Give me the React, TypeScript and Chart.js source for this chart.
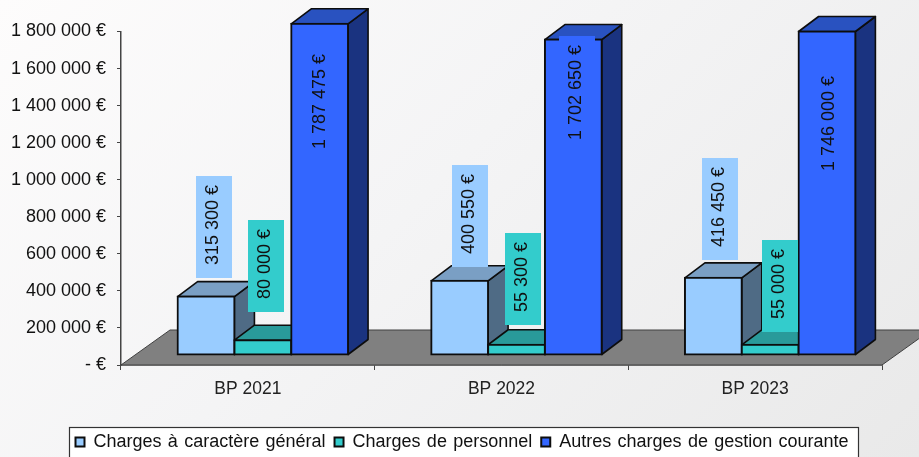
import React, { useEffect, useRef } from "react";
import { Chart, registerables } from "chart.js";

Chart.register(...registerables);

const categories = ["BP 2021", "BP 2022", "BP 2023"];
const seriesNames = ["Charges à caractère général", "Charges de personnel", "Autres charges de gestion courante"];
const generalCharges = [315300, 400550, 416450];
const staffCharges = [80000, 55300, 55000];
const otherCharges = [1787475, 1702650, 1746000];
const yTicks = [0, 200000, 400000, 600000, 800000, 1000000, 1200000, 1400000, 1600000, 1800000];

const COLORS = ["#99CCFF", "#33CCCC", "#3366FF"];
const TOPS = ["#7A9FC4", "#299A9A", "#2952C0"];
const SIDES = ["#4F6B85", "#1F7A7A", "#1A3380"];
const STROKE = "#0d0d0d";
const FAMILY = "'Liberation Sans', Arial, sans-serif";
const FONT = "18px " + FAMILY;
const DEPTH_X = 20, DEPTH_Y = 15, SHIFT_X = 15, SHIFT_Y = -10;
const FLOOR_X = 49, FLOOR_Y = 35;
// data-label placement, per group then per series
const LABEL_LEFT_OFFSET = [[18, 14, 12], [21, 17, 14], [17, 20, 13]];
const LABEL_BOTTOM = [[278, 312, 162], [267, 325, 153], [260, 332, 184]];

const fmt = (v: number) => {
  if (v === 0) return "- €";
  return String(v).replace(/\B(?=(\d{3})+(?!\d))/g, " ") + " €";
};

const poly = (ctx: CanvasRenderingContext2D, pts: number[][], fill: string) => {
  ctx.beginPath();
  pts.forEach((p, i) => (i ? ctx.lineTo(p[0], p[1]) : ctx.moveTo(p[0], p[1])));
  ctx.closePath();
  ctx.fillStyle = fill;
  ctx.fill();
  ctx.strokeStyle = STROKE;
  ctx.lineWidth = 1.6;
  ctx.lineJoin = "round";
  ctx.stroke();
};

const threeD = {
  id: "threeD",
  beforeDraw(chart: any) {
    const lg = chart.legend;
    const ctx = chart.ctx;
    lg.left = 66.5;
    lg.right = 919;
    lg.top = 424;
    lg.bottom = 460;
    if (!lg.__wrapped) {
      lg.__wrapped = true;
      const orig = lg.draw;
      lg.draw = function (...a: any[]) {
        ctx.wordSpacing = "1.3px";
        orig.apply(this, a);
        ctx.wordSpacing = "0px";
      };
    }
    ctx.save();
    ctx.fillStyle = "#fff";
    ctx.strokeStyle = "#333";
    ctx.lineWidth = 1.2;
    ctx.fillRect(69.5, 427.5, 789, 40);
    ctx.strokeRect(69.5, 427.5, 789, 40);
    ctx.restore();
  },
  beforeDatasetsDraw(chart: any) {
    const { ctx, scales } = chart;
    const l = scales.x.left, r = scales.x.right, b = scales.y.getPixelForValue(0);
    ctx.save();
    ctx.beginPath();
    ctx.moveTo(l, b);
    ctx.lineTo(r, b);
    ctx.lineTo(r + FLOOR_X, b - FLOOR_Y);
    ctx.lineTo(l + FLOOR_X, b - FLOOR_Y);
    ctx.closePath();
    ctx.fillStyle = "#808080";
    ctx.fill();
    ctx.strokeStyle = "#404040";
    ctx.lineWidth = 1;
    ctx.stroke();
    ctx.restore();

    ctx.save();
    ctx.translate(SHIFT_X, SHIFT_Y);
    [0, 1, 2].forEach((i) => {
      chart.getDatasetMeta(i).data.forEach((bar: any) => {
        const p = bar.getProps(["x", "y", "base", "width"], true);
        const x0 = p.x - p.width / 2, x1 = p.x + p.width / 2;
        poly(ctx, [[x1, p.y], [x1 + DEPTH_X, p.y - DEPTH_Y], [x1 + DEPTH_X, p.base - DEPTH_Y], [x1, p.base]], SIDES[i]);
        poly(ctx, [[x0, p.y], [x0 + DEPTH_X, p.y - DEPTH_Y], [x1 + DEPTH_X, p.y - DEPTH_Y], [x1, p.y]], TOPS[i]);
        bar.draw(ctx);
      });
    });
    ctx.restore();

    [0, 1, 2].forEach((s) => {
      chart.getDatasetMeta(s).data.forEach((bar: any, g: number) => {
        const p = bar.getProps(["x", "width"], true);
        const left = Math.round(p.x - p.width / 2 + SHIFT_X) + LABEL_LEFT_OFFSET[g][s];
        const txt = fmt(chart.data.datasets[s].data[g]);
        ctx.save();
        ctx.font = FONT;
        const h = Math.round(ctx.measureText(txt).width + 22);
        const bottom = LABEL_BOTTOM[g][s];
        ctx.fillStyle = COLORS[s];
        ctx.fillRect(left, bottom - h, 36, h);
        ctx.translate(left + 16, bottom - h / 2 - 2);
        ctx.rotate(-Math.PI / 2);
        ctx.fillStyle = "#111";
        ctx.textAlign = "center";
        ctx.textBaseline = "middle";
        ctx.fillText(txt, 0, 1);
        ctx.restore();
      });
    });
    return false;
  },
};

export default function App() {
  const ref = useRef<HTMLCanvasElement>(null);
  useEffect(() => {
    const chart = new Chart(ref.current!, {
      type: "bar",
      data: {
        labels: categories,
        datasets: [generalCharges, staffCharges, otherCharges].map((data, i) => ({
          label: seriesNames[i],
          data,
          backgroundColor: COLORS[i],
          borderColor: STROKE,
          borderWidth: 2,
          inflateAmount: 1,
          borderSkipped: false,
          categoryPercentage: 0.672,
          barPercentage: 1,
        })),
      },
      options: {
        animation: false,
        responsive: false,
        layout: { padding: { top: 31.5, right: 37, left: 0, bottom: 0 } },
        plugins: {
          tooltip: { enabled: false },
          legend: {
            position: "bottom",
            align: "start",
            labels: { font: { size: 18, family: FAMILY }, color: "#111", boxWidth: 9, boxHeight: 9, padding: 9 },
          },
        },
        scales: {
          x: {
            grid: { drawOnChartArea: false, color: "#444", tickLength: 5, offset: true },
            border: { color: "#333", width: 1.5 },
            ticks: { color: "#222", font: { size: 17.5, family: FAMILY }, padding: 9, maxRotation: 0 },
            afterFit: (s: any) => { s.height = 55; },
          },
          y: {
            min: 0,
            max: 1800000,
            afterBuildTicks: (s: any) => { s.ticks = yTicks.map((value) => ({ value })); },
            grid: { drawOnChartArea: false, color: "#444", tickLength: 4 },
            border: { color: "#444", width: 1.5 },
            ticks: { color: "#111", font: { size: 18, family: FAMILY }, padding: 11, callback: (v: any) => fmt(Number(v)) },
            afterFit: (s: any) => { s.width = 121; },
          },
        },
      },
      plugins: [threeD],
    } as any);
    return () => chart.destroy();
  }, []);
  return (
    <div style={{ position: "fixed", left: 0, top: 0, width: 919, height: 457, overflow: "hidden", background: "linear-gradient(135deg,#fdfcfc 0%,#f4f4f5 45%,#e9e9e9 100%)" }}>
      <canvas ref={ref} width={919} height={457} style={{ display: "block" }} />
    </div>
  );
}
